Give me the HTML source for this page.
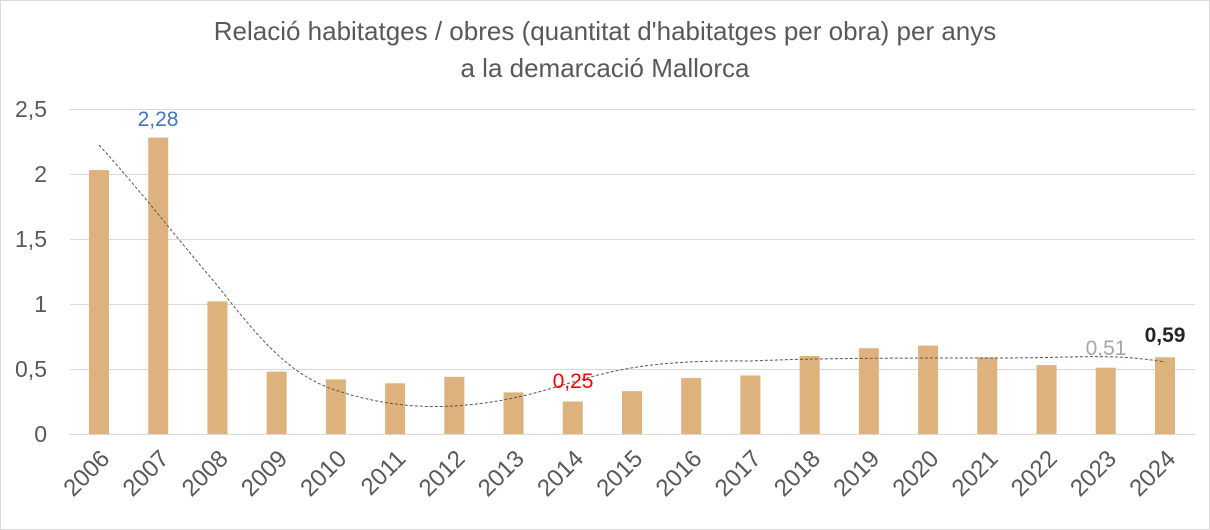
<!DOCTYPE html>
<html><head><meta charset="utf-8"><style>
body{margin:0;background:#fff;}
svg{display:block;font-family:"Liberation Sans",sans-serif;}
</style></head><body>
<svg width="1210" height="530" viewBox="0 0 1210 530">
<rect x="0.5" y="0.5" width="1209" height="529" fill="#fff" stroke="#d9d9d9"/>
<text x="605" y="40" text-anchor="middle" font-size="26" fill="#595959">Relació habitatges / obres (quantitat d'habitatges per obra) per anys</text>
<text x="605" y="77" text-anchor="middle" font-size="26" fill="#595959">a la demarcació Mallorca</text>
<g stroke="#d9d9d9" stroke-width="1">
<line x1="70" y1="109.5" x2="1195" y2="109.5"/>
<line x1="70" y1="174.5" x2="1195" y2="174.5"/>
<line x1="70" y1="239.5" x2="1195" y2="239.5"/>
<line x1="70" y1="304.5" x2="1195" y2="304.5"/>
<line x1="70" y1="369.5" x2="1195" y2="369.5"/>
<line x1="70" y1="434.5" x2="1195" y2="434.5"/>
</g>
<g font-size="23" fill="#595959" text-anchor="end">
<text x="47" y="117">2,5</text><text x="47" y="182">2</text><text x="47" y="247">1,5</text>
<text x="47" y="312">1</text><text x="47" y="377">0,5</text><text x="47" y="442">0</text>
</g>
<g fill="#deb27c" id="bars"></g>
<path d="M99,145 C140,190 170,230 217,285 C260,340 290,375 335,390 C380,405 420,408 454,406 C500,403 530,395 573,382 C620,368 660,360 750,361 C820,358 900,358 1000,358 C1080,358 1110,353 1165,362" fill="none" stroke="#595959" stroke-width="1" stroke-dasharray="3,2"/>
<text x="158" y="126" text-anchor="middle" font-size="21" fill="#4472c4">2,28</text>
<text x="573" y="388" text-anchor="middle" font-size="21" fill="#ff0000">0,25</text>
<text x="1106" y="355" text-anchor="middle" font-size="21" fill="#a6a6a6">0,51</text>
<text x="1165" y="342" text-anchor="middle" font-size="21" fill="#262626" font-weight="bold">0,59</text>
<g id="xl" font-size="24" fill="#595959"></g>
<script>
var v=[2.03,2.28,1.02,0.48,0.42,0.39,0.44,0.32,0.25,0.33,0.43,0.45,0.60,0.66,0.68,0.59,0.53,0.51,0.59];
var b=document.getElementById('bars'),xl=document.getElementById('xl'),ns='http://www.w3.org/2000/svg';
v.forEach(function(d,i){var cx=99+i*59.22;var r=document.createElementNS(ns,'rect');
r.setAttribute('x',cx-10);r.setAttribute('width',20);r.setAttribute('y',434-d*130);r.setAttribute('height',d*130);b.appendChild(r);
var t=document.createElementNS(ns,'text');t.setAttribute('text-anchor','end');
t.setAttribute('transform','translate('+(cx+12)+',460) rotate(-45)');t.textContent=2006+i;xl.appendChild(t);});
</script>
</svg>
</body></html>
